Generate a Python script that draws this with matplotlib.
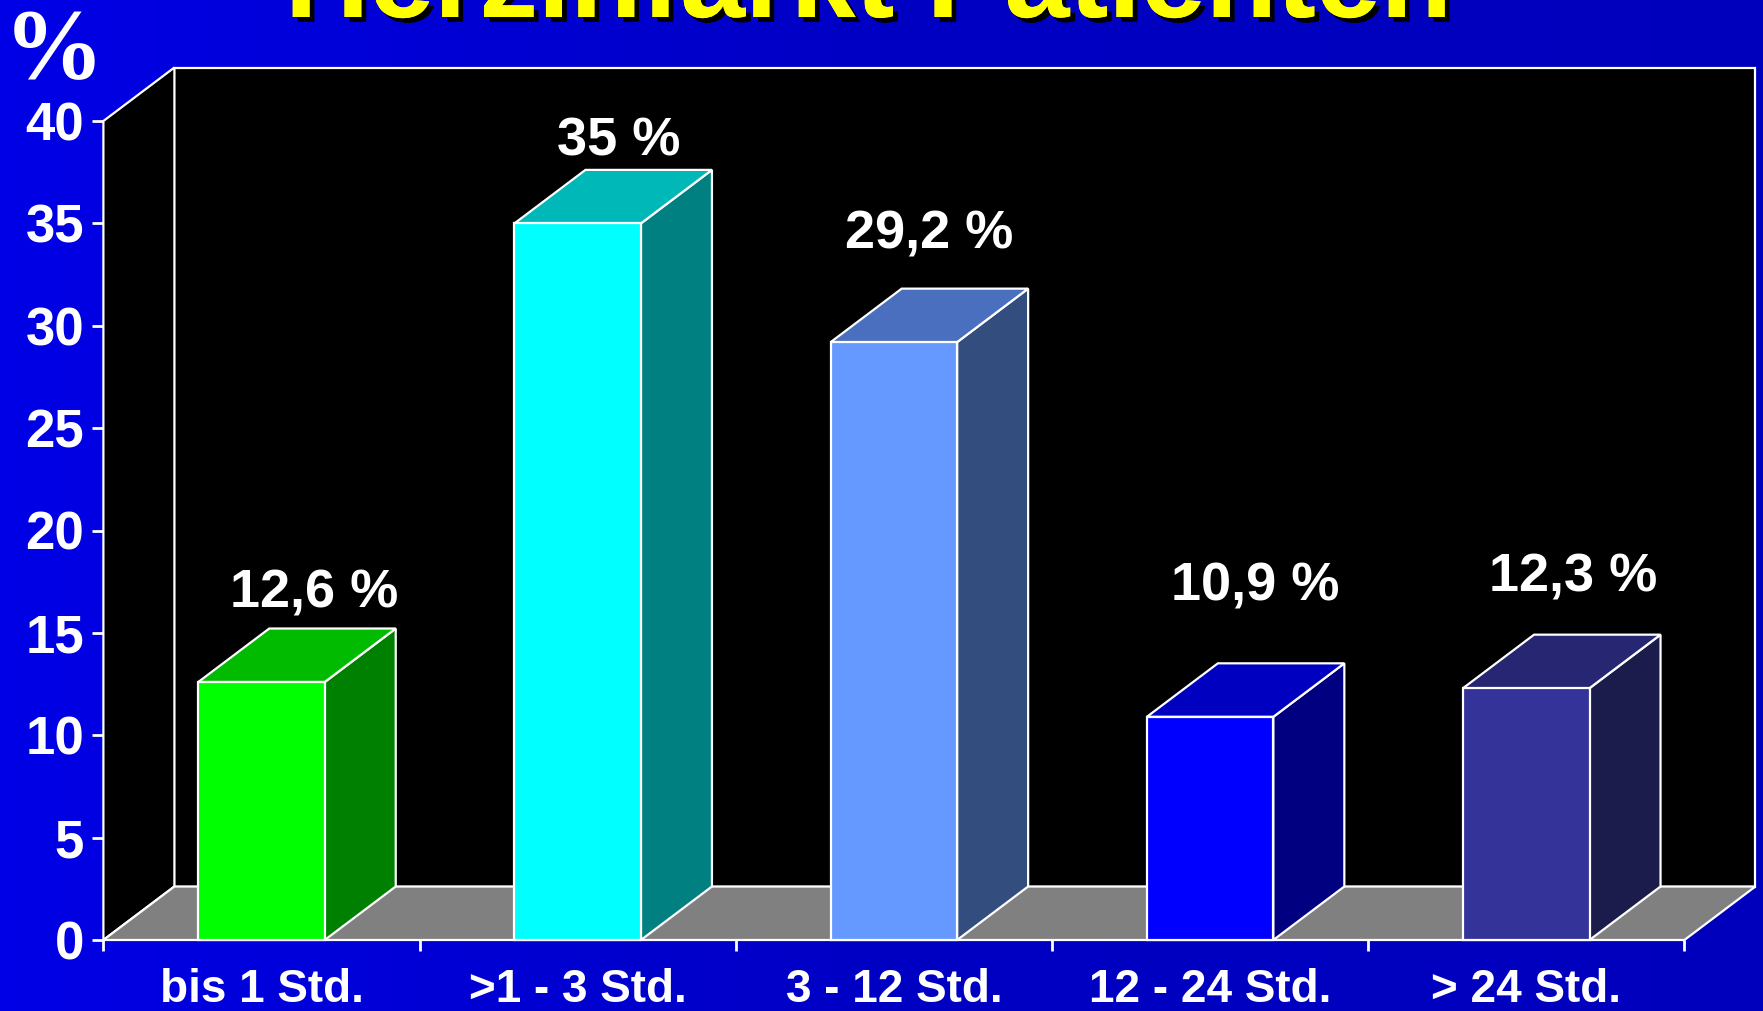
import numpy as np
import matplotlib
matplotlib.use("Agg")
import matplotlib.pyplot as plt
import matplotlib.patheffects as pe
from matplotlib.patches import Polygon, Rectangle

# Herzinfarkt-Patienten: Zeit bis zur Aufnahme (Anteil in %)
kategorien = ["bis 1 Std.", ">1 - 3 Std.", "3 - 12 Std.", "12 - 24 Std.", "> 24 Std."]
werte = [12.6, 35.0, 29.2, 10.9, 12.3]
beschriftung = ["12,6 %", "35 %", "29,2 %", "10,9 %", "12,3 %"]
y_ticks = [0, 5, 10, 15, 20, 25, 30, 35, 40]

# Lage der Wertebeschriftung relativ zur Saeulenoberseite (Dateneinheiten)
label_lift = [4.3, 4.0, 5.25, 6.35, 5.4]
label_shift = [0.055, 0.016, -0.002, 0.03, 0.037]

farbe_vorne = ["#00FF00", "#00FFFF", "#6699FF", "#0000FF", "#333399"]
farbe_oben = ["#00BB00", "#00B8B8", "#4A6FBF", "#0000C0", "#262672"]
farbe_seite = ["#008000", "#008080", "#334D7F", "#000080", "#1C1C4C"]

W, H = 1763, 1011
fig = plt.figure(figsize=(W / 100, H / 100), dpi=100)

# Hintergrund: horizontaler Blauverlauf
bg = fig.add_axes([0, 0, 1, 1], zorder=0)
grad = np.linspace(0, 1, 256)[None, :]
cmap = matplotlib.colors.LinearSegmentedColormap.from_list(
    "bg", ["#0000E6", "#0000C4", "#0000BC"])
bg.imshow(grad, aspect="auto", cmap=cmap, extent=[0, 1, 0, 1])
bg.set_axis_off()

# Diagramm-Achse = Vorderkante der Pseudo-3D-Box
x0, x1 = 103.4, 1684.4
yb, yt = 940.0, 121.0
ax = fig.add_axes([x0 / W, (H - yb) / H, (x1 - x0) / W, (yb - yt) / H], zorder=1)
ax.set_xlim(0, len(werte))
ax.set_ylim(0, 40)
ax.patch.set_visible(False)
for s in ax.spines.values():
    s.set_visible(False)

# Tiefenversatz in Datenkoordinaten
dx = 71.0 / ((x1 - x0) / len(werte))
dy = 53.5 / ((yb - yt) / 40)
n = len(werte)
ec = "white"
lw = 1.6

# Rueckwand, Seitenwand, Boden
ax.add_patch(Rectangle((dx, dy), n, 40, fc="black", ec=ec, lw=lw, clip_on=False))
ax.add_patch(Polygon([(0, 0), (0, 40), (dx, 40 + dy), (dx, dy)], closed=True,
                     fc="black", ec=ec, lw=lw, clip_on=False))
ax.add_patch(Polygon([(0, 0), (n, 0), (n + dx, dy), (dx, dy)], closed=True,
                     fc="#808080", ec=ec, lw=lw, clip_on=False))

# Saeulen
bw = 0.2
for i, v in enumerate(werte):
    c = i + 0.5
    l, r = c - bw, c + bw
    ax.add_patch(Polygon([(r, 0), (r + dx, dy), (r + dx, v + dy), (r, v)], closed=True,
                         fc=farbe_seite[i], ec=ec, lw=lw, clip_on=False))
    ax.add_patch(Polygon([(l, v), (r, v), (r + dx, v + dy), (l + dx, v + dy)], closed=True,
                         fc=farbe_oben[i], ec=ec, lw=lw, clip_on=False))
    ax.add_patch(Rectangle((l, 0), r - l, v, fc=farbe_vorne[i], ec=ec, lw=lw,
                           clip_on=False))
    ax.text(c + dx / 2 + label_shift[i], v + label_lift[i], beschriftung[i],
            ha="center", va="center", color="white", fontsize=39,
            fontweight="bold", family="Liberation Sans", clip_on=False)

# Achsen
ax.set_yticks(y_ticks)
ax.set_yticklabels([str(t) for t in y_ticks])
ax.tick_params(axis="y", direction="out", length=8, width=2, color="white",
               labelcolor="white", labelsize=38, pad=6)
ax.set_xticks(range(n + 1))
ax.set_xticklabels([])
ax.set_xticks([i + 0.5 for i in range(n)], minor=True)
ax.set_xticklabels(kategorien, minor=True)
ax.tick_params(axis="x", which="major", direction="out", length=8, width=2,
               color="white")
ax.tick_params(axis="x", which="minor", length=0, labelcolor="white",
               labelsize=33, pad=20.5)
for lab in ax.get_yticklabels() + ax.get_xticklabels(minor=True):
    lab.set_fontfamily("Liberation Sans")
    lab.set_fontweight("bold")

# Einheit oben links
fig.text(4 / W, 1 - 77 / H, "%", ha="left", va="baseline", color="white",
         fontsize=72, family="Liberation Serif", fontweight="bold")

# Titel mit Schlagschatten (oben angeschnitten)
fig.text(868 / W, 1 - 17 / H, "Herzinfarkt Patienten", ha="center", va="baseline",
         color="#FFFF00", fontsize=84, fontweight="bold", family="Liberation Sans",
         path_effects=[pe.withSimplePatchShadow(offset=(3.5, -3.5),
                                                shadow_rgbFace="black", alpha=1.0),
                       pe.Normal()])

fig.savefig("out.png", dpi=100)
